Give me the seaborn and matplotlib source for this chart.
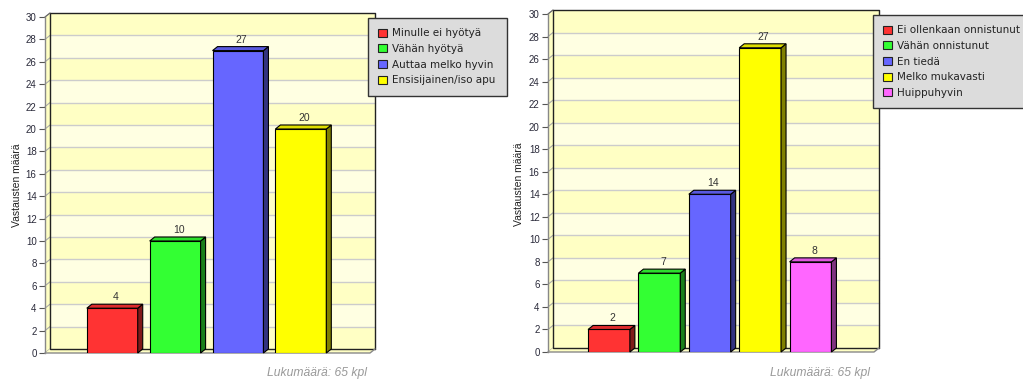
import matplotlib
matplotlib.use("Agg")
import matplotlib.pyplot as plt
import matplotlib.transforms as mtransforms
from matplotlib.patches import Polygon, Patch
from matplotlib.colors import to_rgb
import seaborn as sns

# ---- data -------------------------------------------------------------
left_labels = ["Minulle ei hyötyä", "Vähän hyötyä", "Auttaa melko hyvin", "Ensisijainen/iso apu"]
left_values = [4, 10, 27, 20]
left_colors = ["#FF3333", "#33FF33", "#6666FF", "#FFFF00"]

right_labels = ["Ei ollenkaan onnistunut", "Vähän onnistunut", "En tiedä", "Melko mukavasti", "Huippuhyvin"]
right_values = [2, 7, 14, 27, 8]
right_colors = ["#FF3333", "#33FF33", "#6666FF", "#FFFF00", "#FF66FF"]

y_ticks = list(range(0, 31, 2))
y_label = "Vastausten määrä"
count_note = "Lukumäärä: 65 kpl"

# ---- figure -----------------------------------------------------------
W, H, DPI = 1023, 381, 100
DX, DY = 5, 4  # depth of the pseudo-3D effect, in pixels

sns.set_theme(style="white")
plt.rcParams["font.family"] = ["Liberation Sans", "DejaVu Sans"]

fig = plt.figure(figsize=(W / DPI, H / DPI), dpi=DPI)
fig.patch.set_facecolor("white")
IDENT = mtransforms.IdentityTransform()


def shade(color, f):
    r, g, b = to_rgb(color)
    return (r * f, g * f, b * f)


def add_poly(ax, pts, **kw):
    poly = Polygon(pts, closed=True, transform=IDENT, clip_on=False, **kw)
    ax.add_artist(poly)
    return poly


def draw_panel(px_box, xlim, labels, values, colors, bar_width, legend_box, ylabel_xy, note_xy):
    left, right, bottom, top = px_box  # pixel positions (from top for bottom/top)
    ax = fig.add_axes([left / W, 1 - bottom / H, (right - left) / W, (bottom - top) / H])
    ax.set_facecolor("none")

    sns.barplot(x=labels, y=values, hue=labels, palette=colors, order=labels,
                hue_order=labels, width=bar_width, saturation=1, legend=False,
                edgecolor="black", linewidth=0.8, zorder=3, ax=ax)
    ax.set_xlim(*xlim)
    ax.set_ylim(0, 30)
    ax.set_yticks(y_ticks)
    ax.set_xticks([])
    ax.set_xlabel("")
    ax.set_ylabel("")
    for s in ["top", "right", "bottom"]:
        ax.spines[s].set_visible(False)
    ax.spines["left"].set_color("#888888")
    ax.spines["left"].set_linewidth(1.0)
    ax.spines["left"].set_zorder(2)
    ax.tick_params(axis="y", length=4, width=0.8, color="#555555", pad=2,
                   labelsize=7, labelcolor="#2a2a3a", left=True)

    T = ax.transData
    x0d, x1d = xlim
    (XL, Y0) = T.transform((x0d, 0))
    (XR, Y30) = T.transform((x1d, 30))

    # back wall with alternating bands
    for k in range(0, 30, 2):
        _, ya = T.transform((x0d, k))
        _, yb = T.transform((x0d, k + 2))
        col = "#FFFFC4" if (k // 2) % 2 == 0 else "#FFFFE2"
        add_poly(ax, [(XL + DX, ya + DY), (XR + DX, ya + DY), (XR + DX, yb + DY), (XL + DX, yb + DY)],
                 facecolor=col, edgecolor="none", zorder=0.5)
    # left side wall
    add_poly(ax, [(XL, Y0), (XL + DX, Y0 + DY), (XL + DX, Y30 + DY), (XL, Y30)],
             facecolor="#FFFFC4", edgecolor="none", zorder=0.5)
    # grid lines on the wall and on the side wall
    for k in y_ticks[1:-1]:
        _, yk = T.transform((x0d, k))
        ax.plot([XL + DX, XR + DX], [yk + DY, yk + DY], color="#CCCCCC", lw=1.0,
                transform=IDENT, clip_on=False, zorder=0.6)
    for k in y_ticks:
        _, yk = T.transform((x0d, k))
        ax.plot([XL, XL + DX], [yk, yk + DY], color="#AAAAAA", lw=0.8,
                transform=IDENT, clip_on=False, zorder=0.6)
    # wall outline
    ax.plot([XL + DX, XL + DX, XR + DX, XR + DX], [Y0 + DY, Y30 + DY, Y30 + DY, Y0 + DY],
            color="#222222", lw=1.0, transform=IDENT, clip_on=False, zorder=0.7)
    ax.plot([XL, XL + DX], [Y30, Y30 + DY], color="#666666", lw=0.8,
            transform=IDENT, clip_on=False, zorder=0.7)
    # floor
    add_poly(ax, [(XL, Y0), (XR, Y0), (XR + DX, Y0 + DY), (XL + DX, Y0 + DY)],
             facecolor="#FFFFC4", edgecolor="none", zorder=0.8)
    ax.plot([XL + DX, XR + DX], [Y0 + DY, Y0 + DY], color="#222222", lw=1.0,
            transform=IDENT, clip_on=False, zorder=0.9)
    ax.plot([XL, XR, XR + DX], [Y0, Y0, Y0 + DY], color="#888888", lw=1.0,
            transform=IDENT, clip_on=False, zorder=0.9)

    # pseudo-3D faces for each bar plus value labels
    bars = sorted([p for c in ax.containers for p in c], key=lambda p: p.get_x())
    for p, v, c in zip(bars, values, colors):
        bx0, bw, bh = p.get_x(), p.get_width(), p.get_height()
        (X0, Yb) = T.transform((bx0, 0))
        (X1, Yt) = T.transform((bx0 + bw, bh))
        add_poly(ax, [(X1, Yb), (X1 + DX, Yb + DY), (X1 + DX, Yt + DY), (X1, Yt)],
                 facecolor=shade(c, 0.5), edgecolor="black", lw=0.8, zorder=3.1)
        add_poly(ax, [(X0, Yt), (X0 + DX, Yt + DY), (X1 + DX, Yt + DY), (X1, Yt)],
                 facecolor=shade(c, 0.87), edgecolor="black", lw=0.8, zorder=3.1)
        ax.annotate(f"{v}", xy=(bx0 + bw / 2, bh), xytext=(DX / 2 + 1, DY + 2),
                    textcoords="offset pixels", ha="center", va="bottom",
                    fontsize=7.5, color="#333333", annotation_clip=False, zorder=4)

    # legend
    lx, ly, lw_ = legend_box
    handles = [Patch(facecolor=c, edgecolor="#222222", lw=0.8) for c in colors]
    leg = ax.legend(handles, labels, loc="upper left",
                    bbox_to_anchor=(lx / W, 1 - ly / H, lw_ / W, 0),
                    bbox_transform=fig.transFigure, mode="expand", borderaxespad=0,
                    frameon=True, fancybox=False, framealpha=1, facecolor="#DCDCDC",
                    edgecolor="#333333", prop={"family": "DejaVu Sans", "size": 7.5},
                    handlelength=0.8, handleheight=0.8, handletextpad=0.5,
                    labelspacing=0.54, borderpad=1.0)
    leg.get_frame().set_linewidth(1.0)
    for t in leg.get_texts():
        t.set_color("#222222")

    fig.text(ylabel_xy[0] / W, 1 - ylabel_xy[1] / H, y_label, rotation=90,
             ha="center", va="center", fontsize=7.5, color="#222222")
    fig.text(note_xy[0] / W, 1 - note_xy[1] / H, count_note, ha="center", va="center",
             fontsize=8.7, style="italic", color="#999999")
    return ax


draw_panel((45, 370, 353, 17), (-1.07, 4.10), left_labels, left_values, left_colors,
           0.81, (368, 18, 139), (17.5, 185), (317, 373))
draw_panel((548, 874, 352, 14), (-1.21, 5.26), right_labels, right_values, right_colors,
           0.83, (873, 15, 175), (519.5, 184), (820, 373))

fig.savefig("out.png", dpi=DPI)
